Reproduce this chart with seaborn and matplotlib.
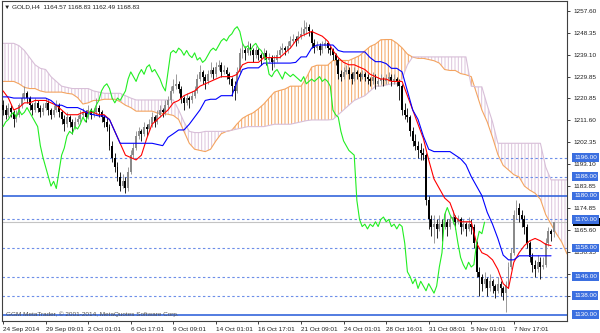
import numpy as np
import matplotlib
matplotlib.use("Agg")
import matplotlib.pyplot as plt
import seaborn as sns
from matplotlib.transforms import blended_transform_factory
from matplotlib.patches import Rectangle

sns.set_style("white")
plt.rcParams['font.family'] = ['Liberation Sans', 'DejaVu Sans']
plt.rcParams['hatch.linewidth'] = 0.7

# ---------------- data (GOLD H4 candles) ----------------
opens = [1218,1216,1214,1217,1215,1212,1214,1218,1221,1223,
         1221,1218,1216,1219,1217,1215,1217,1219,1216,1214,
         1216,1218,1215,1212,1210,1213,1211,1209,1211,1212,
         1214,1215,1213,1216,1214,1215,1217,1215,1213,1211,
         1209,1201,1196,1192,1188,1184,1186,1183,1190,1197,
         1200,1205,1207,1206,1209,1208,1210,1213,1211,1214,
         1216,1215,1218,1220,1224,1226,1227,1225,1221,1219,
         1221,1220,1222,1224,1229,1232,1230,1228,1231,1233,
         1231,1234,1235,1232,1233,1231,1229,1226,1224,1232,
         1240,1241,1240,1242,1241,1239,1241,1239,1238,1240,
         1237,1238,1236,1237,1239,1241,1242,1241,1243,1245,
         1246,1245,1247,1248,1250,1251,1249,1244,1242,1243,
         1241,1243,1244,1242,1241,1239,1237,1231,1230,1232,
         1233,1231,1229,1232,1231,1230,1231,1230,1229,1228,
         1230,1227,1228,1229,1228,1229,1230,1228,1229,1228,
         1226,1216,1214,1213,1207,1203,1201,1199,1198,1197,
         1178,1170,1167,1168,1166,1168,1167,1169,1167,1170,
         1171,1169,1170,1167,1168,1166,1168,1167,1160,1148,
         1146,1143,1145,1141,1144,1142,1140,1143,1141,1139,
         1142,1150,1156,1172,1175,1172,1170,1167,1160,1154,
         1151,1149,1152,1150,1151,1160,1165,1164.57]
highs = [1220,1218,1219,1218,1216,1216,1219,1223,1226,1224,
         1222,1219,1221,1220,1218,1219,1221,1220,1217,1218,
         1220,1219,1216,1214,1215,1214,1212,1213,1214,1216,
         1217,1216,1218,1217,1217,1221,1218,1216,1214,1213,
         1210,1203,1198,1194,1190,1189,1188,1192,1199,1202,
         1207,1209,1208,1211,1210,1212,1215,1214,1216,1218,
         1217,1220,1222,1226,1229,1231,1228,1226,1222,1223,
         1222,1224,1226,1231,1235,1233,1231,1233,1236,1234,
         1236,1237,1236,1235,1234,1232,1230,1228,1234,1242,
         1244,1243,1245,1244,1242,1243,1242,1240,1242,1241,
         1240,1239,1239,1241,1243,1244,1243,1245,1247,1248,
         1247,1249,1251,1254,1253,1252,1250,1246,1245,1244,
         1245,1246,1245,1243,1242,1240,1238,1233,1234,1235,
         1234,1232,1234,1233,1232,1233,1232,1231,1230,1232,
         1231,1230,1231,1230,1231,1232,1231,1231,1230,1229,
         1227,1219,1217,1214,1209,1206,1203,1202,1200,1198,
         1180,1172,1172,1170,1172,1170,1173,1170,1172,1174,
         1172,1172,1171,1170,1169,1171,1170,1168,1161,1150,
         1147,1148,1146,1147,1145,1143,1146,1144,1142,1144,
         1152,1158,1174,1178,1177,1174,1172,1168,1161,1156,
         1153,1155,1154,1154,1162,1167,1166,1168.83]
lows = [1214,1212,1213,1213,1209,1211,1213,1217,1220,1219,
        1216,1214,1215,1215,1213,1214,1216,1214,1212,1213,
        1215,1213,1210,1207,1209,1209,1206,1208,1210,1211,
        1213,1211,1212,1212,1213,1214,1213,1211,1209,1207,
        1199,1194,1190,1186,1182,1183,1181,1182,1189,1196,
        1199,1204,1203,1205,1205,1207,1209,1209,1210,1213,
        1213,1214,1217,1219,1223,1225,1223,1219,1216,1218,
        1217,1219,1221,1223,1228,1227,1225,1227,1230,1229,
        1230,1233,1230,1231,1229,1227,1222,1220,1223,1231,
        1238,1237,1239,1239,1236,1238,1237,1235,1237,1235,
        1236,1233,1234,1236,1238,1240,1239,1240,1242,1244,
        1243,1244,1246,1247,1248,1247,1242,1240,1241,1239,
        1240,1242,1240,1239,1237,1235,1229,1228,1229,1231,
        1229,1227,1228,1229,1228,1229,1228,1227,1226,1227,
        1225,1226,1227,1226,1227,1228,1226,1227,1226,1220,
        1214,1212,1211,1205,1201,1199,1196,1195,1195,1176,
        1166,1163,1160,1162,1165,1161,1166,1163,1166,1168,
        1166,1168,1164,1165,1163,1165,1164,1158,1146,1138,
        1140,1141,1138,1140,1139,1137,1139,1138,1136,1131,
        1141,1149,1155,1170,1169,1167,1164,1158,1152,1148,
        1146,1148,1145,1149,1150,1159,1161,1162.49]
closes = [1216,1214,1217,1215,1212,1214,1218,1221,1223,1221,
          1218,1216,1219,1217,1215,1217,1219,1216,1214,1216,
          1218,1215,1212,1210,1213,1211,1209,1211,1212,1214,
          1215,1213,1216,1214,1215,1217,1215,1213,1211,1209,
          1201,1196,1192,1188,1184,1186,1183,1190,1197,1200,
          1205,1207,1206,1209,1208,1210,1213,1211,1214,1216,
          1215,1218,1220,1224,1226,1227,1225,1221,1219,1221,
          1220,1222,1224,1229,1232,1230,1228,1231,1233,1231,
          1234,1235,1232,1233,1231,1229,1226,1224,1232,1240,
          1241,1240,1242,1241,1239,1241,1239,1238,1240,1237,
          1238,1236,1237,1239,1241,1242,1241,1243,1245,1246,
          1245,1247,1248,1250,1251,1249,1244,1242,1243,1241,
          1243,1244,1242,1241,1239,1237,1231,1230,1232,1233,
          1231,1229,1232,1231,1230,1231,1230,1229,1228,1230,
          1227,1228,1229,1228,1229,1230,1228,1229,1228,1226,
          1216,1214,1213,1207,1203,1201,1199,1198,1197,1178,
          1170,1167,1168,1166,1168,1167,1169,1167,1170,1171,
          1169,1170,1167,1168,1166,1168,1167,1160,1148,1146,
          1143,1145,1141,1144,1142,1140,1143,1141,1139,1142,
          1150,1156,1172,1175,1172,1170,1167,1160,1154,1151,
          1149,1152,1150,1151,1160,1165,1164,1168.83]

# Ichimoku lines, read every 2 bars
line_bars = list(range(0, 208, 2))
tenkan = [1224,1221,1216,1217,1219,1219,1220,1220,1220,1219,
          1218,1216,1214,1214,1214,1215,1215,1215,1214,1214,
          1212,1207,1202,1197,1196,1195,1197,1204,1210,1212,
          1214,1216,1219,1220,1222,1223,1224,1226,1227,1228,
          1229,1230,1230,1230,1231,1235,1236,1236,1236,1238,
          1238,1238,1238,1240,1242,1245,1247,1248,1249,1248,
          1247,1245,1241,1238,1236,1235,1235,1234,1233,1231,
          1230,1229,1229,1228,1228,1228,1222,1216,1210,1204,
          1195,1187,1183,1179,1177,1171,1169,1169,1169,1160,
          1156,1155,1153,1149,1143,1141,1152,1156,1159,1161,
          1162,1161,1159.5,1159]
kijun = [1221.5,1221.5,1221,1221,1221,1221,1221,1221,1221,1220,
         1218,1218,1217,1217,1217,1216,1214.5,1214,1213.5,1213.5,
         1212,1207,1202,1202,1202,1202,1202,1202,1202,1201.5,
         1201,1204.5,1206,1207.6,1207.6,1210,1213,1216,1220,1220.5,
         1220.5,1222,1222,1222,1228,1233,1233.7,1233.7,1233.7,1235.7,
         1235.7,1235.7,1235.7,1235.7,1235.7,1236,1238.3,1238.3,1242,1243.3,
         1243.3,1243.3,1243.3,1241,1240.4,1240.4,1240.4,1240.4,1240.4,1238,
         1236.3,1236.3,1235.5,1233.5,1233.5,1232,1224,1216,1212,1205,
         1199.5,1198.5,1198.5,1198.5,1198.5,1197,1195.5,1193,1188,1184,
         1180,1173,1168,1162,1155,1153,1153,1154.7,1154.7,1154.7,
         1154.7,1154.7,1154.7,1154.7]
cloud_bars = list(range(0, 214, 2))
senkou_a = [1228,1228,1228,1227,1225.5,1225,1225,1224,1223.5,1223.5,
            1223.5,1223.5,1223,1222.7,1221.2,1218.5,1219,1220,1220,1220.5,
            1220.5,1220.5,1219.5,1218,1217,1215.5,1215.5,1215.5,1215.5,1214.7,
            1214.5,1214.2,1213.7,1212,1207,1202,1199.5,1199,1198.5,1199.5,
            1203,1206,1207,1207.5,1210.2,1212.5,1213.8,1214.8,1216.5,1218.5,
            1221,1223.5,1224.2,1224.8,1226,1226,1226,1229.5,1234,1234.8,
            1234.8,1234.8,1236.8,1236.8,1236.8,1236.8,1237.8,1238.8,1240.8,1242.7,
            1243.7,1245.5,1245.6,1245.6,1244.1,1242.1,1239.5,1238.2,1237.7,1237.7,
            1237.2,1236.7,1235.7,1233,1232.6,1232.6,1231.3,1230.8,1230,1223,
            1216,1211,1204.5,1197.3,1192.7,1190.8,1188.8,1187.8,1184,1182.3,
            1181,1178.5,1172,1168,1164,1160.5,1155.5]
senkou_b = [1244,1244,1244,1243,1241,1238,1235,1233.5,1233,1230,
            1228,1226,1225.5,1225,1225,1225,1225,1224,1223.5,1223,
            1223,1223,1223,1222,1221,1220.2,1220.2,1220.2,1220.2,1220.2,
            1220.2,1220.2,1220.2,1216,1211,1207,1206.5,1206.5,1207,1207,
            1207,1207,1207,1207.5,1208,1208.5,1209,1209,1209,1209,
            1209.5,1210,1210,1210,1210,1210.5,1211,1211.5,1211.8,1211.8,
            1211.8,1211.8,1212,1214,1216,1218,1220,1221,1222,1224,
            1226,1226,1226.5,1227,1227,1229,1235,1238.3,1238.3,1238.3,
            1238.3,1238.3,1238.3,1238.3,1238.3,1238.3,1238.3,1238.3,1226,1225.7,
            1225.7,1218,1211,1202,1202,1202,1202,1202,1202,1202,
            1202,1202,1192,1186.6,1186.6,1186.6,1186.6]
chikou_shift = 26

dotted_levels = [1196, 1188, 1170, 1158, 1146, 1138]
solid_levels = [1180, 1130]
bid_price = 1168.83
price_ticks = [1257.60, 1248.35, 1239.10, 1229.85, 1220.85, 1211.60, 1202.35,
               1193.10, 1183.85, 1174.85, 1165.60, 1156.35, 1147.10, 1137.85]
time_tick_bars = [0, 16, 32, 48, 64, 80, 96, 112, 128, 144, 160, 176, 192]
time_tick_labels = ["24 Sep 2014", "29 Sep 09:01", "2 Oct 01:01", "6 Oct 17:01",
                    "9 Oct 09:01", "14 Oct 01:01", "16 Oct 17:01", "21 Oct 09:01",
                    "24 Oct 01:01", "28 Oct 16:01", "31 Oct 08:01", "5 Nov 01:01",
                    "7 Nov 17:01"]
title = "\u25bc GOLD,H4  1164.57 1168.83 1162.49 1168.83"
footer = "GGM MetaTrader, \u00a9 2001-2014, MetaQuotes Software Corp."

# ---------------- figure ----------------
fig = plt.figure(figsize=(6.0, 3.33), dpi=100)
fig.patch.set_facecolor("white")
ax = fig.add_axes([1.5 / 600, 12 / 333, 565.5 / 600, 320 / 333])
ax.set_facecolor("white")
ax.set_xlim(-0.6, 212)
ax.set_ylim(1127.3, 1261.8)

# cloud
cb = np.array(cloud_bars, dtype=float)
sa = np.array(senkou_a)
sb = np.array(senkou_b)
ax.fill_between(cb, sa, sb, where=sa >= sb, interpolate=True, facecolor="none",
                edgecolor="#f4a460", hatch="|||||", linewidth=0, zorder=1)
ax.fill_between(cb, sa, sb, where=sa < sb, interpolate=True, facecolor="none",
                edgecolor="#dcc4dc", hatch="|||||", linewidth=0, zorder=1)
sns.lineplot(x=cloud_bars, y=senkou_a, ax=ax, color="#f4a460", linewidth=0.8, zorder=2)
sns.lineplot(x=cloud_bars, y=senkou_b, ax=ax, color="#d8bfd8", linewidth=0.8, zorder=2)

# horizontal levels
for v in dotted_levels:
    ax.axhline(v, color="#6d8ee8", lw=0.8, ls=(0, (2.2, 2.2)), zorder=1.5)
for v in solid_levels:
    ax.axhline(v, color="#3566dc", lw=1.2, zorder=1.5)
ax.axhline(bid_price, color="#c4c4c4", lw=0.8, zorder=1.4)

# candles
o = np.array(opens); h = np.array(highs); l = np.array(lows); c = np.array(closes)
idx = np.arange(len(c))
bull = c >= o
cols = np.where(bull, "#8a8a8a", "#000000")
ax.vlines(idx, l, h, colors=cols, lw=0.6, zorder=3)
ax.bar(idx, np.maximum(np.abs(c - o), 0.35), bottom=np.minimum(o, c), width=0.72,
       color=cols, linewidth=0, zorder=3)

# indicator lines
sns.lineplot(x=line_bars, y=tenkan, ax=ax, color="#ff0000", linewidth=0.8, zorder=4)
sns.lineplot(x=line_bars, y=kijun, ax=ax, color="#0000ff", linewidth=0.8, zorder=4)
sns.lineplot(x=idx[chikou_shift:] - chikou_shift, y=c[chikou_shift:], ax=ax,
             color="#22ee22", linewidth=0.8, zorder=4)

# axes styling
for s in ax.spines.values():
    s.set_color("#404040")
    s.set_linewidth(0.8)
ax.yaxis.tick_right()
ax.set_yticks(price_ticks)
ax.set_yticklabels([f"{v:.2f}" for v in price_ticks])
ax.tick_params(axis="y", right=True, left=False, length=2.5, width=0.6, pad=2,
               labelsize=4.6, colors="#202020")
ax.set_xticks(time_tick_bars)
ax.set_xticklabels(time_tick_labels, ha="left")
ax.tick_params(axis="x", bottom=True, length=2.5, width=0.6, pad=1.5,
               labelsize=4.6, colors="#202020")
ax.set_xlabel("")
ax.set_ylabel("")

tr = blended_transform_factory(ax.transAxes, ax.transData)
# current bid marker (mostly hidden behind the 1170 label, as in the reference)
ax.add_patch(Rectangle((1.011, bid_price - 1.6), 0.05, 3.2, transform=tr,
                       facecolor="#000000", edgecolor="none", zorder=6, clip_on=False))
for v in dotted_levels + solid_levels:
    ax.text(1.0125, v, f"{v:.2f}", transform=tr, ha="left", va="center",
            fontsize=4.6, color="white", zorder=7, clip_on=False,
            bbox=dict(boxstyle="square,pad=0.25", fc="#3b6fe0", ec="none"))

ax.text(0.005, 0.981, title, transform=ax.transAxes, ha="left", va="center",
        fontsize=4.6, color="#202020", zorder=8)
ax.text(0.008, 0.022, footer, transform=ax.transAxes, ha="left", va="center",
        fontsize=4.6, color="#505050", zorder=8)

fig.savefig("out.png", dpi=100, facecolor="white")
